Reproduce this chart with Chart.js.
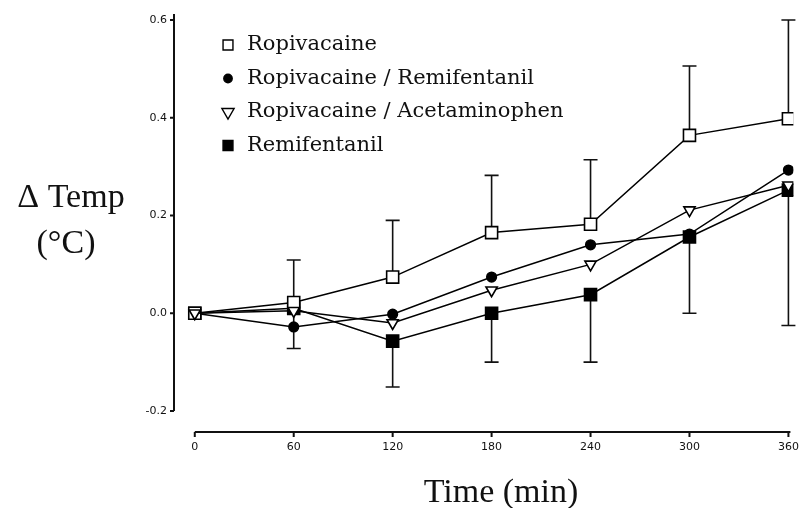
<!DOCTYPE html>
<html>
<head>
<meta charset="utf-8">
<script src="https://cdn.jsdelivr.net/npm/chart.js@4/dist/chart.umd.min.js"></script>
<style>
    body { margin: 0; background: #fff; }
    .wrap { width: 808px; height: 508px; position: relative; }
</style>
</head>
<body>
<div class="wrap"><canvas id="tempChart"></canvas></div>
<script>
const times = [0, 60, 120, 180, 240, 300, 360]
const seriesNames = ["Ropivacaine", "Ropivacaine / Remifentanil", "Ropivacaine / Acetaminophen", "Remifentanil"]
const ropivacaine = [0, 0.022, 0.074, 0.165, 0.182, 0.364, 0.398]
const ropiRemi = [0, -0.028, -0.002, 0.074, 0.14, 0.162, 0.293]
const ropiAcet = [0, 0.005, -0.02, 0.047, 0.1, 0.211, 0.262]
const remifentanil = [0, 0.01, -0.057, 0.0, 0.038, 0.156, 0.252]
// error bars: ropivacaine up, remifentanil down
const ropivacaineUpper = [null, 0.109, 0.19, 0.282, 0.314, 0.506, 0.6]
const remifentanilLower = [null, -0.072, -0.151, -0.1, -0.1, 0.0, -0.025]
const xTicks = [0, 60, 120, 180, 240, 300, 360]
const yTicks = [-0.2, 0.0, 0.2, 0.4, 0.6]

const canvasChart = document.getElementById("tempChart").getContext("2d")

const markers = [
    { pointStyle: "rect", radius: 8.5, rotation: 0, fill: "#fff" },
    { pointStyle: "circle", radius: 4.8, rotation: 0, fill: "#000" },
    { pointStyle: "triangle", radius: 6.5, rotation: 180, fill: "#fff" },
    { pointStyle: "rect", radius: 8.5, rotation: 0, fill: "#000" },
]

function makeDataset(i, values, order) {
    return {
        label: seriesNames[i],
        data: values.map((v, k) => ({ x: times[k], y: v })),
        borderColor: "#000",
        borderWidth: 1.5,
        tension: 0,
        pointStyle: markers[i].pointStyle,
        pointRadius: markers[i].radius,
        pointRotation: markers[i].rotation,
        pointBackgroundColor: markers[i].fill,
        pointBorderColor: "#000",
        pointBorderWidth: 1.6,
        order: order,
    }
}

function drawMarker(ctx, m, x, y, r) {
    ctx.save()
    ctx.fillStyle = m.fill
    ctx.strokeStyle = "#000"
    ctx.lineWidth = 1.4
    ctx.beginPath()
    if (m.pointStyle === "rect") {
        const s = r * Math.SQRT1_2
        ctx.rect(x - s, y - s, 2 * s, 2 * s)
    } else if (m.pointStyle === "circle") {
        ctx.arc(x, y, r, 0, Math.PI * 2)
    } else {
        ctx.moveTo(x - r * 0.87, y - r * 0.5)
        ctx.lineTo(x + r * 0.87, y - r * 0.5)
        ctx.lineTo(x, y + r)
        ctx.closePath()
    }
    ctx.fill()
    ctx.stroke()
    ctx.restore()
}

const errorBars = {
    id: "errorBars",
    beforeDatasetsDraw(chart) {
        const { ctx, scales } = chart
        const x = scales.x, y = scales.y
        ctx.save()
        ctx.strokeStyle = "#111"
        ctx.lineWidth = 1.6
        const sets = [[ropivacaine, ropivacaineUpper], [remifentanil, remifentanilLower]]
        sets.forEach(([vals, ends]) => {
            ends.forEach((e, k) => {
                if (e === null) return
                const px = x.getPixelForValue(times[k])
                const p0 = y.getPixelForValue(vals[k])
                const p1 = y.getPixelForValue(e)
                ctx.beginPath()
                ctx.moveTo(px, p0)
                ctx.lineTo(px, p1)
                ctx.moveTo(px - 7, p1)
                ctx.lineTo(px + 7, p1)
                ctx.stroke()
            })
        })
        ctx.restore()
    },
}

const axesAndText = {
    id: "axesAndText",
    afterDraw(chart) {
        const { ctx, scales, chartArea } = chart
        const x = scales.x, y = scales.y
        ctx.save()
        ctx.strokeStyle = "#111"
        ctx.lineWidth = 2
        // y axis
        const ax = chartArea.left
        ctx.beginPath()
        ctx.moveTo(ax, chartArea.top)
        ctx.lineTo(ax, y.getPixelForValue(-0.2))
        yTicks.forEach((v) => {
            const py = y.getPixelForValue(v)
            ctx.moveTo(ax, py)
            ctx.lineTo(ax - 4, py)
        })
        ctx.stroke()
        // x axis
        const ay = chartArea.bottom
        ctx.beginPath()
        ctx.moveTo(x.getPixelForValue(0), ay)
        ctx.lineTo(x.getPixelForValue(360) + 2, ay)
        xTicks.forEach((v) => {
            const px = x.getPixelForValue(v)
            ctx.moveTo(px, ay)
            ctx.lineTo(px, ay + 5)
        })
        ctx.stroke()

        // axis titles
        ctx.fillStyle = "#111"
        ctx.textAlign = "center"
        ctx.textBaseline = "alphabetic"
        ctx.font = "34px 'Liberation Serif', serif"
        ctx.fillText("Time (min)", 501, 502)
        ctx.fillText("\u0394 Temp", 71, 207)
        ctx.fillText("(\u00B0C)", 66, 253)

        // legend
        ctx.textAlign = "left"
        ctx.textBaseline = "middle"
        ctx.font = "21px 'DejaVu Serif', serif"
        seriesNames.forEach((name, i) => {
            const ly = 45 + i * 33.5
            drawMarker(ctx, markers[i], 228, ly, i === 1 ? 4.2 : 7)
            ctx.fillStyle = "#111"
            ctx.fillText(name, 247, ly)
        })
        ctx.restore()
    },
}

const myChart = new Chart(canvasChart, {
    type: "line",
    data: {
        datasets: [
            makeDataset(0, ropivacaine, 1),
            makeDataset(1, ropiRemi, 2),
            makeDataset(2, ropiAcet, 0),
            makeDataset(3, remifentanil, 3),
        ],
    },
    options: {
        responsive: true,
        maintainAspectRatio: false,
        animation: false,
        layout: { padding: { left: 0, right: 8, top: 14, bottom: 0 } },
        plugins: { legend: { display: false }, tooltip: { enabled: false } },
        scales: {
            x: {
                type: "linear",
                min: -12.6,
                max: 363,
                grid: { display: false, drawTicks: false },
                border: { display: false },
                afterFit: (s) => { s.height = 76 },
                afterBuildTicks: (s) => { s.ticks = xTicks.map((v) => ({ value: v })) },
                ticks: {
                    padding: 9,
                    maxRotation: 0,
                    autoSkip: false,
                    color: "#111",
                    font: { family: "'DejaVu Sans', sans-serif", size: 11 },
                    callback: (v) => String(v),
                },
            },
            y: {
                min: -0.243,
                max: 0.6123,
                grid: { display: false, drawTicks: false },
                border: { display: false },
                afterFit: (s) => { s.width = 174 },
                afterBuildTicks: (s) => { s.ticks = yTicks.map((v) => ({ value: v })) },
                ticks: {
                    padding: 7,
                    autoSkip: false,
                    color: "#111",
                    font: { family: "'DejaVu Sans', sans-serif", size: 11 },
                    callback: (v) => Number(v).toFixed(1),
                },
            },
        },
    },
    plugins: [errorBars, axesAndText],
})
</script>
</body>
</html>
